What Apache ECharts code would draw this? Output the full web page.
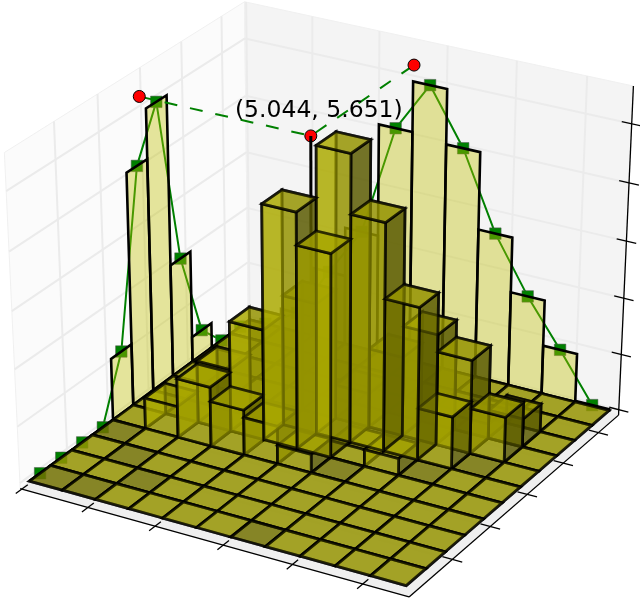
<!DOCTYPE html>
<html><head><meta charset="utf-8"><style>html,body{margin:0;background:#fff}#c{width:640px;height:600px}</style>
<script src="https://cdn.jsdelivr.net/npm/echarts@6/dist/echarts.min.js"></script></head><body><div id="c"></div>
<script>
// ---- data ----
// bar heights, [x bin, y bin, height]; every other bin of the 11 x 11 grid is empty
const barHeights=[
 [1,4,0.55],[2,4,1.05],[3,4,0.8],[4,4,0.67],[5,4,0.33],
 [2,5,1.1],[3,5,1.95],[4,5,4.12],[5,5,3.56],[6,5,0.3],[7,5,0.3],
 [4,6,2.3],[5,6,5.0],[6,6,3.98],[7,6,2.68],[8,6,0.92],
 [5,7,0.6],[6,7,1.4],[7,7,1.95],[8,7,1.65],[9,7,0.8],
 [8,8,0.25],[9,8,0.5]
];
const darkCells=[[0,0],[1,0],[0,3],[1,2],[2,1],[6,0],[6,4],[8,5],[9,6]];
const leftWall=[0,0,0,0,1.1,4.1,4.96,2.0,0.45,0,0];
const rightWall=[0,0.35,1.25,2.12,4.08,4.95,4.0,2.65,1.68,0.87,0.02];
const meanPoint=[5.02,5.7,5.23];
const annotation='(5.044, 5.651)';
const xTicks=[-0.1,1.9,3.9,5.9,7.9,9.9];
const yTicks=[2,4,6,8,10];
const zTicks=[0,1,2,3,4,5];
const bins=11;
// ---- view of the box ----
const elev=30*Math.PI/180, azim=-60*Math.PI/180, dist=10;
const xLim=[-0.148,11.2], yLim=[-0.214,11.17], zLim=[-0.1,5.63];
const n=[Math.cos(elev)*Math.cos(azim),Math.cos(elev)*Math.sin(azim),Math.sin(elev)];
const ul=Math.hypot(n[0],n[1]);const u=[-n[1]/ul,n[0]/ul,0];
const v=[n[1]*u[2]-n[2]*u[1],n[2]*u[0]-n[0]*u[2],n[0]*u[1]-n[1]*u[0]];
const dot=(a,b)=>a[0]*b[0]+a[1]*b[1]+a[2]*b[2];
function view(x,y,z){
 const d=[(x-xLim[0])/(xLim[1]-xLim[0])-.5,(y-yLim[0])/(yLim[1]-yLim[0])-.5,(z-zLim[0])/(zLim[1]-zLim[0])-.5];
 const w=dist-dot(n,d);
 return [dot(u,d)/w,dot(v,d)/w,w];
}
const [x0,x1]=xLim,[y0,y1]=yLim,[z0,z1]=zLim;
// ---- faces of all the bars, far to near ----
function boxFaces(i,j,h){
 const a=i,b=i+1,c=j,d=j+1;
 return [
  ['top',[[a,c,h],[b,c,h],[b,d,h],[a,d,h]]],
  ['bottom',[[a,c,0],[b,c,0],[b,d,0],[a,d,0]]],
  ['front',[[a,c,0],[b,c,0],[b,c,h],[a,c,h]]],
  ['back',[[a,d,0],[b,d,0],[b,d,h],[a,d,h]]],
  ['left',[[a,c,0],[a,d,0],[a,d,h],[a,c,h]]],
  ['right',[[b,c,0],[b,d,0],[b,d,h],[b,c,h]]]
 ];
}
const heightOf={};barHeights.forEach(r=>heightOf[r[0]+'_'+r[1]]=r[2]);
const isDark=(i,j)=>darkCells.some(q=>q[0]===i&&q[1]===j);
const faceList=[];
for(let i=0;i<bins;i++)for(let j=0;j<bins;j++){
 const h=heightOf[i+'_'+j]||0;
 boxFaces(i,j,h).forEach(f=>{
  if(h===0&&f[0]!=='top'&&f[0]!=='bottom')return;
  let depth=f[1].reduce((s,p)=>s+view(p[0],p[1],p[2])[2],0)/4;
  if(h===0)depth+=((f[0]==='top')===isDark(i,j))?1e-6:-1e-6;
  faceList.push({name:f[0],pts:f[1],depth});
 });
}
faceList.sort((p,q)=>q.depth-p.depth);
const faceFill={top:'rgba(172,170,0,.6)',front:'rgba(172,170,0,.6)',left:'rgba(172,170,0,.6)',bottom:'rgba(90,90,0,.6)',back:'rgba(90,90,0,.6)',right:'rgba(90,90,0,.6)'};
// ---- panes, grid, axes ----
const panes=[
 {fill:'#fbfbfb',pts:[[x0,y0,z0],[x0,y1,z0],[x0,y1,z1],[x0,y0,z1]]},
 {fill:'#f4f4f4',pts:[[x0,y1,z0],[x1,y1,z0],[x1,y1,z1],[x0,y1,z1]]},
 {fill:'#efefef',pts:[[x0,y0,z0],[x1,y0,z0],[x1,y1,z0],[x0,y1,z0]]}
];
const gridLines=[];
xTicks.forEach(t=>{gridLines.push([[t,y0,z0],[t,y1,z0]],[[t,y1,z0],[t,y1,z1]]);});
yTicks.forEach(t=>{gridLines.push([[x0,t,z0],[x1,t,z0]],[[x0,t,z0],[x0,t,z1]]);});
zTicks.forEach(t=>{gridLines.push([[x0,y0,t],[x0,y1,t]],[[x0,y1,t],[x1,y1,t]]);});
const axisLines=[[[x0,y0,z0],[x1,y0,z0]],[[x1,y0,z0],[x1,y1,z0]],[[x1,y1,z0],[x1,y1,z1]]];
const tickLen=0.28;
xTicks.forEach(t=>axisLines.push([[t,y0-tickLen,z0],[t,y0+tickLen,z0]]));
yTicks.forEach(t=>axisLines.push([[x1-tickLen,t,z0],[x1+tickLen,t,z0]]));
zTicks.forEach(t=>axisLines.push([[x1-tickLen,y1,t],[x1+tickLen,y1,t]]));
// ---- wall histograms ----
const wallBars=[];
leftWall.forEach((h,j)=>wallBars.push([[0,j,0],[0,j+1,0],[0,j+1,h],[0,j,h]]));
rightWall.forEach((h,i)=>wallBars.push([[i,bins,0],[i+1,bins,0],[i+1,bins,h],[i,bins,h]]));
const leftLine=leftWall.map((h,j)=>view(0,j+.5,h).slice(0,2));
const rightLine=rightWall.map((h,i)=>view(i+.5,bins,h).slice(0,2));
const [mx,my,mz]=meanPoint;
const meanOnLeft=[0,my,mz],meanOnRight=[mx,bins,mz];
const dashLine=[meanOnLeft,meanPoint,meanOnRight].map(p=>view(p[0],p[1],p[2]).slice(0,2));
const redPoints=dashLine;
const stem=[[mx,my,0],meanPoint].map(p=>view(p[0],p[1],p[2]).slice(0,2));
// ---- chart ----
const poly=(api,pts)=>pts.map(p=>{const q=view(p[0],p[1],p[2]);return api.coord([q[0],q[1]]);});
function indexSeries(z,list,item){return {type:'custom',coordinateSystem:'cartesian2d',z,silent:true,clip:false,
 data:list.map((_,k)=>[k]),encode:{x:0},renderItem(p,api){return item(list[api.value(0)],api);}};}
const chart=echarts.init(document.getElementById('c'),null,{renderer:'canvas'});
chart.setOption({animation:false,
 grid:{left:0,right:0,top:0,bottom:0},
 xAxis:{type:'value',min:-0.07218,max:0.0704,show:false},
 yAxis:{type:'value',min:-0.08098,max:0.07535,show:false},
 series:[
  indexSeries(1,panes,(o,api)=>({type:'polygon',shape:{points:poly(api,o.pts)},style:{fill:o.fill,stroke:'#f0f0f0',lineWidth:1}})),
  indexSeries(2,gridLines,(o,api)=>({type:'polyline',shape:{points:poly(api,o)},style:{fill:null,stroke:'#ebebeb',lineWidth:2}})),
  indexSeries(3,axisLines,(o,api)=>({type:'polyline',shape:{points:poly(api,o)},style:{fill:null,stroke:'#000',lineWidth:1.3}})),
  {type:'line',z:4,silent:true,data:leftLine,symbol:'rect',symbolSize:11.5,lineStyle:{color:'#008000',width:2},itemStyle:{color:'#008000',borderColor:'#555',borderWidth:.5}},
  {type:'line',z:4,silent:true,data:rightLine,symbol:'rect',symbolSize:11.5,lineStyle:{color:'#008000',width:2},itemStyle:{color:'#008000',borderColor:'#555',borderWidth:.5}},
  indexSeries(5,wallBars,(o,api)=>({type:'polygon',shape:{points:poly(api,o)},style:{fill:'rgba(191,191,0,.38)',stroke:'#000',lineWidth:2.6}})),
  {type:'line',z:6,silent:true,data:dashLine,symbol:'none',lineStyle:{color:'#008000',width:2,type:[13,13]}},
  {type:'scatter',z:6.5,silent:true,data:redPoints,symbol:'circle',symbolSize:12,itemStyle:{color:'#ff0000',borderColor:'#000',borderWidth:1,opacity:1}},
  {type:'line',z:7,silent:true,data:stem,symbol:'none',lineStyle:{color:'#000',width:3}},
  indexSeries(8,faceList,(o,api)=>({type:'polygon',shape:{points:poly(api,o.pts)},style:{fill:faceFill[o.name],stroke:'rgba(0,0,0,.72)',lineWidth:2.8,lineJoin:'miter'}})),
  {type:'custom',coordinateSystem:'cartesian2d',z:9,silent:true,clip:false,data:[[meanPoint[0],meanPoint[1]]],encode:{x:0,y:1},
   renderItem(p,api){const q=view(mx,my,mz);const a=api.coord([q[0],q[1]]);
    return {type:'text',style:{text:annotation,x:a[0]+8,y:a[1]-25,align:'center',verticalAlign:'middle',font:'23.5px "DejaVu Sans"',fill:'#000'}};}}
 ]});
</script></body></html>
